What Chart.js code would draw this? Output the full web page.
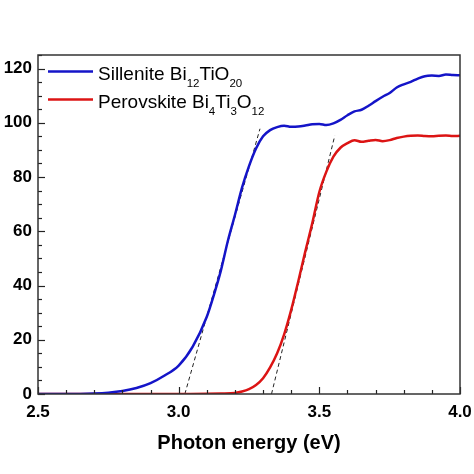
<!DOCTYPE html>
<html><head><meta charset="utf-8">
<script src="https://cdn.jsdelivr.net/npm/chart.js@4/dist/chart.umd.min.js"></script>
<style>html,body{margin:0;padding:0;background:#fff}canvas{display:block}</style>
</head><body>
<canvas id="c" width="474" height="474"></canvas>
<script>
// ---- data ----
const seriesNames = ['Sillenite Bi12TiO20', 'Perovskite Bi4Ti3O12'];
const xTickLabels = [2.5, 3.0, 3.5, 4.0];
const yTickLabels = [0, 20, 40, 60, 80, 100, 120];
const xTitle = 'Photon energy (eV)';

const sillEnergy = [2.50,2.60,2.70,2.75,2.80,2.85,2.90,2.95,3.00,3.05,3.10,3.125,3.15,3.175,3.20,3.225,3.25,3.275,3.30,3.325,3.35,3.375,3.40,3.425,3.45,3.475,3.50,3.525,3.55,3.575,3.60,3.625,3.65,3.675,3.70,3.725,3.75,3.775,3.80,3.825,3.85,3.875,3.90,3.925,3.95,3.975,4.00];
const sillAbs    = [0,0,0.2,0.5,1.1,2.2,4.0,6.8,10.5,17.5,28.5,36.5,45.5,56.5,66,76,84,90.5,95,97.3,98.4,98.9,98.5,98.6,99,99.5,99.6,99.2,99.8,101.1,102.8,104.2,104.8,106.3,108,109.6,111,113,114.2,115.1,116.3,117.2,117.4,117.3,117.8,117.6,117.5];

const perEnergy = [2.50,2.80,3.00,3.10,3.15,3.20,3.225,3.25,3.275,3.30,3.325,3.35,3.375,3.40,3.425,3.45,3.475,3.50,3.525,3.55,3.575,3.60,3.625,3.65,3.675,3.70,3.725,3.75,3.775,3.80,3.825,3.85,3.875,3.90,3.925,3.95,3.975,4.00];
const perAbs    = [0,0,0,0.1,0.2,0.4,0.9,1.8,3.3,5.8,9.8,15,22,31,41.5,52.5,63,74.5,82,87.5,90.8,92.5,93.6,93,93.4,93.7,93.2,93.6,94.4,94.9,95.2,95.3,95.1,95,95.2,95.3,95.1,95.2];

const sillTangentEnergy = [3.022, 3.289];
const sillTangentAbs    = [0, 97.8];
const perTangentEnergy  = [3.330, 3.555];
const perTangentAbs     = [0, 95.3];

// ---- helpers ----
const pts = (xs, ys) => xs.map((x, i) => ({x: x, y: ys[i]}));
const BLUE = '#1414c8', RED = '#dc1414';
const FONT = '"Liberation Sans", Arial, sans-serif';

const frameTicks = {
  id: 'frameTicks',
  afterDraw(chart) {
    const {ctx, chartArea: a, scales: {x, y}} = chart;
    ctx.save();
    ctx.strokeStyle = '#222';
    ctx.lineWidth = 1.2;
    for (let v = 25; v <= 40; v++) {
      const px = Math.round(x.getPixelForValue(v / 10)) + 0.5;
      const major = v % 5 === 0;
      ctx.beginPath(); ctx.moveTo(px, a.bottom); ctx.lineTo(px, a.bottom - (major ? 7 : 4)); ctx.stroke();
    }
    for (let v = 0; v <= 125; v += 5) {
      const py = Math.round(y.getPixelForValue(v)) + 0.5;
      const major = v % 20 === 0;
      ctx.beginPath(); ctx.moveTo(a.left, py); ctx.lineTo(a.left + (major ? 7 : 4), py); ctx.stroke();
    }
    ctx.strokeStyle = '#333';
    ctx.lineWidth = 1.5;
    ctx.strokeRect(a.left, a.top, a.right - a.left, a.bottom - a.top);
    ctx.restore();
  }
};

const subLegend = {
  id: 'subLegend',
  afterDraw(chart) {
    const {ctx, chartArea: a} = chart;
    const colors = [BLUE, RED];
    const baselines = [80, 108];
    ctx.save();
    seriesNames.forEach((name, i) => {
      const b = baselines[i];
      ctx.strokeStyle = colors[i];
      ctx.lineWidth = 2.5;
      ctx.beginPath(); ctx.moveTo(a.left + 10, b - 8.5); ctx.lineTo(a.left + 55, b - 8.5); ctx.stroke();
      let xp = a.left + 60;
      ctx.fillStyle = '#000';
      ctx.textBaseline = 'alphabetic';
      ctx.textAlign = 'left';
      name.split(/(\d+)/).forEach(part => {
        if (!part) return;
        const isSub = /^\d+$/.test(part);
        ctx.font = isSub ? '11.5px ' + FONT : '19px ' + FONT;
        ctx.fillText(part, xp, isSub ? b + 6.5 : b);
        xp += ctx.measureText(part).width;
      });
    });
    ctx.restore();
  }
};

new Chart(document.getElementById('c'), {
  type: 'line',
  data: {
    datasets: [
      {label: seriesNames[0], data: pts(sillEnergy, sillAbs), borderColor: BLUE, borderWidth: 2.5, pointRadius: 0, cubicInterpolationMode: 'monotone'},
      {label: seriesNames[1], data: pts(perEnergy, perAbs), borderColor: RED, borderWidth: 2.5, pointRadius: 0, cubicInterpolationMode: 'monotone'},
      {label: 'tangent1', data: pts(sillTangentEnergy, sillTangentAbs), borderColor: '#222', borderWidth: 1, borderDash: [4, 3], pointRadius: 0},
      {label: 'tangent2', data: pts(perTangentEnergy, perTangentAbs), borderColor: '#222', borderWidth: 1, borderDash: [4, 3], pointRadius: 0}
    ]
  },
  options: {
    responsive: false,
    animation: false,
    devicePixelRatio: 1,
    layout: {padding: {top: 55, right: 14, left: 0, bottom: 0}},
    plugins: {legend: {display: false}, tooltip: {enabled: false}},
    scales: {
      x: {
        type: 'linear', min: 2.5, max: 4.0,
        afterBuildTicks: s => { s.ticks = xTickLabels.map(v => ({value: v})); },
        afterFit: s => { s.height = 80; s.paddingLeft = 0; s.paddingRight = 0; },
        grid: {display: false, drawTicks: false},
        border: {display: false},
        ticks: {color: '#000', padding: 8, font: {family: FONT, size: 17, weight: 'bold'}, callback: v => Number(v).toFixed(1), maxRotation: 0},
        title: {display: true, text: xTitle, color: '#000', font: {family: FONT, size: 20, weight: 'bold'}, padding: {top: 0, bottom: 19}}
      },
      y: {
        type: 'linear', min: 0, max: 125,
        afterBuildTicks: s => { s.ticks = yTickLabels.map(v => ({value: v})); },
        afterFit: s => { s.width = 38; s.paddingTop = 0; s.paddingBottom = 0; },
        grid: {display: false, drawTicks: false},
        border: {display: false},
        ticks: {color: '#000', padding: 6, font: {family: FONT, size: 17, weight: 'bold'}}
      }
    }
  },
  plugins: [frameTicks, subLegend]
});
</script>
</body></html>
